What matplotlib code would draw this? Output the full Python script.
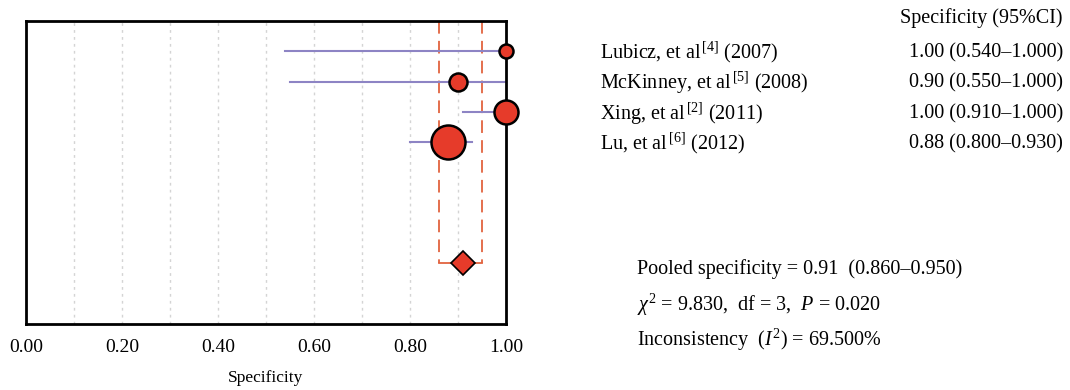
import matplotlib
matplotlib.use("Agg")
import matplotlib.pyplot as plt

plt.rcParams['font.family'] = ['Liberation Serif', 'DejaVu Serif']
plt.rcParams['mathtext.fontset'] = 'custom'
plt.rcParams['mathtext.rm'] = 'Liberation Serif'
plt.rcParams['mathtext.it'] = 'Liberation Serif:italic'

studies = ["Lubicz, et al$^{\\,[4]}$ (2007)", "McKinney, et al$^{\\,[5]}$ (2008)",
           "Xing, et al$^{\\,[2]}$ (2011)", "Lu, et al$^{\\,[6]}$ (2012)"]
spec = [1.00, 0.90, 1.00, 0.88]
lo = [0.54, 0.55, 0.91, 0.80]
hi = [1.00, 1.00, 1.00, 0.93]
weight = [7, 9, 12, 17]  # marker radius in px
ci_text = ["1.00 (0.540\u20131.000)", "0.90 (0.550\u20131.000)",
           "1.00 (0.910\u20131.000)", "0.88 (0.800\u20130.930)"]
pooled, pooled_lo, pooled_hi = 0.91, 0.86, 0.95
stats_lines = ["Pooled specificity = 0.91  (0.860\u20130.950)",
               "$\\chi^{2}$ = 9.830,  df = 3,  $P$ = 0.020",
               "Inconsistency  ($I^{2}$) = 69.500%"]
xticks = [0.0, 0.2, 0.4, 0.6, 0.8, 1.0]

red = "#e63b2a"
purple = "#8d84c4"
dash = "#e2633f"
fs = 14.5

fig = plt.figure(figsize=(10.7, 3.9), dpi=100)
ax = fig.add_axes([26/1070, 1-324/390, 480/1070, 303/390])
ax.set_xlim(0, 1)
ax.set_ylim(10, 0)

for g in [i/10 for i in range(1, 10)]:
    ax.axvline(g, color="#d4d4d4", ls=(0, (2, 3)), lw=1, zorder=0)

rows = list(range(1, len(studies)+1))
pooled_row = 8

# pooled CI bracket
ax.plot([pooled_lo, pooled_lo], [0, pooled_row], color=dash, ls=(0, (7, 4)), lw=1.3, zorder=1)
ax.plot([pooled_hi, pooled_hi], [0, pooled_row], color=dash, ls=(0, (7, 4)), lw=1.3, zorder=1)
ax.plot([pooled_lo, pooled_hi], [pooled_row, pooled_row], color=dash, lw=1.3, zorder=1)

for r, s, l, h, w in zip(rows, spec, lo, hi, weight):
    ax.plot([l, h], [r, r], color=purple, lw=1.5, zorder=2)
    ax.plot(s, r, 'o', ms=w*2*0.72, mfc=red, mec='black', mew=1.8, zorder=3, clip_on=False)
ax.plot(pooled, pooled_row, 'D', ms=12, mfc=red, mec='black', mew=1.2, zorder=3)

for sp in ax.spines.values():
    sp.set_linewidth(2)
ax.set_yticks([])
ax.set_xticks(xticks)
ax.set_xticklabels(["%.2f" % t for t in xticks], fontsize=14)
ax.tick_params(axis='x', length=0, pad=11)
ax.set_xlabel("Specificity", fontsize=12.5, labelpad=10)

for r, name, ct in zip(rows, studies, ci_text):
    ax.text((600-26)/480, r + 0.05, name, fontsize=fs, va='center', ha='left', clip_on=False)
    ax.text((1063-26)/480, r + 0.05, ct, fontsize=fs, va='center', ha='right', clip_on=False)
ax.text((1063-26)/480, -0.1, "Specificity (95%CI)", fontsize=fs,
        va='center', ha='right', clip_on=False)

for i, line in enumerate(stats_lines):
    ax.text((637-26)/480, 8.2 + i*1.17, line, fontsize=fs, va='center', ha='left', clip_on=False)

fig.savefig("out.png", dpi=100)
